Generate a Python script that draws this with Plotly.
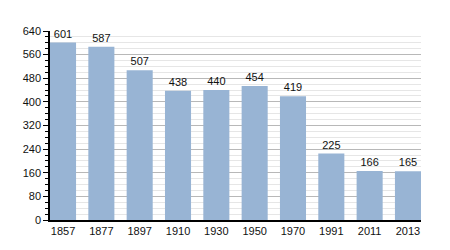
import plotly.graph_objects as go

years = ["1857", "1877", "1897", "1910", "1930", "1950", "1970", "1991", "2011", "2013"]
population = [601, 587, 507, 438, 440, 454, 419, 225, 166, 165]
y_ticks = [0, 80, 160, 240, 320, 400, 480, 560, 640]

fig = go.Figure()
fig.add_trace(go.Bar(
    x=years, y=population,
    marker=dict(color="#98b4d4", line=dict(width=0)),
    text=[str(v) for v in population], textposition="outside",
    textfont=dict(family="Liberation Sans, Arial", size=11, color="#111"),
    cliponaxis=False,
))
fig.update_layout(
    width=450, height=250,
    margin=dict(l=50, r=29, t=31, b=30),
    paper_bgcolor="white", plot_bgcolor="white",
    bargap=0.32, showlegend=False,
    font=dict(family="Liberation Sans, Arial", size=11, color="#111"),
)
fig.update_xaxes(
    type="category", range=[-0.34, 9.34],
    showline=True, linecolor="#000", linewidth=1.5,
    ticks="", tickfont=dict(size=11), showgrid=False,
)
fig.update_yaxes(
    range=[0, 640], tickvals=y_ticks, ticks="outside", ticklen=5, tickcolor="#000",
    showline=True, linecolor="#000", linewidth=1.5,
    showgrid=True, gridcolor="#b8b8b8", gridwidth=1,
    minor=dict(dtick=20, ticks="outside", ticklen=3, tickcolor="#000",
               showgrid=True, gridcolor="#e6e6e6", gridwidth=1),
    zeroline=False, tickfont=dict(size=11),
)
fig.write_html("out.html")
